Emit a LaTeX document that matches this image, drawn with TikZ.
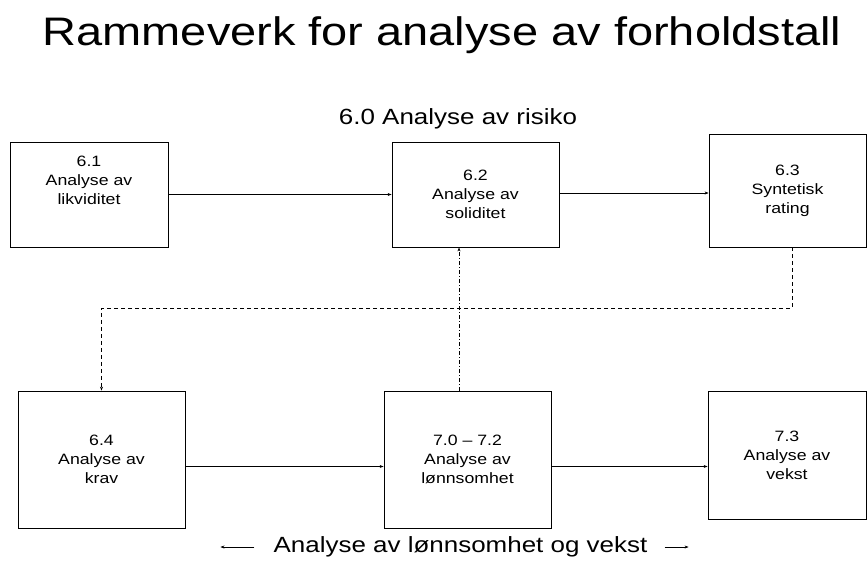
\documentclass[tikz,border=0pt]{standalone}
\usepackage{fontspec}
\setmainfont[FakeStretch=1.18]{Liberation Sans}
\usetikzlibrary{arrows.meta}
\begin{document}
\begin{tikzpicture}[x=1pt,y=-1pt,
  box/.style={draw, line width=0.8pt, inner sep=0pt, align=center,
    font=\fontsize{15}{19}\selectfont},
  boxtext/.style={inner sep=0pt, align=center, font=\fontsize{15}{19}\selectfont},
  conn/.style={line width=0.6pt, -{Stealth[length=4pt,width=3pt]}},
  dashconn/.style={conn, dash pattern=on 4pt off 3pt},
  dotconn/.style={conn, dash pattern=on 4pt off 2pt on 1pt off 2pt},
  lbl/.style={inner sep=0pt, font=\fontsize{22}{26}\selectfont}]
\useasboundingbox (0,0) rectangle (867,566);
% title
\node[inner sep=0pt, anchor=base, font=\fontsize{39.8}{45}\selectfont] (title) at (442,45) {Rammeverk for analyse av forholdstall};
\node[lbl, anchor=base] (sub) at (458,124) {6.0 Analyse av risiko};
% boxes
\node[box, minimum width=158pt, minimum height=105pt] (b61) at (89,194.5) {};
\node[boxtext] (t61) at (89,180.5) {6.1\\Analyse av\\likviditet};
\node[box, minimum width=167pt, minimum height=105pt] (b62) at (475.5,194.5) {6.2\\Analyse av\\soliditet};
\node[box, minimum width=157pt, minimum height=113pt] (b63) at (787.5,190.5) {6.3\\Syntetisk\\rating};
\node[box, minimum width=167pt, minimum height=137pt] (b64) at (101.5,459.5) {6.4\\Analyse av\\krav};
\node[box, minimum width=167pt, minimum height=137pt] (b70) at (467.5,459.5) {7.0 – 7.2\\Analyse av\\lønnsomhet};
\node[box, minimum width=158pt, minimum height=128pt] (b73) at (787,455) {7.3\\Analyse av\\vekst};
% connectors
\draw[conn] (b61.east) -- (b62.west);
\draw[conn] ([yshift=1.5pt]b62.east) -- ([yshift=1.5pt]b62.east -| b63.west);
\draw[conn] ([yshift=-7pt]b64.east) -- ([yshift=-7pt]b64.east -| b70.west);
\draw[conn] ([yshift=-7pt]b70.east) -- ([yshift=-7pt]b70.east -| b73.west);
\draw[dashconn] ([xshift=4.5pt]b63.south) -- ++(0,61) -| (b64.north);
\coordinate (dd) at (459,0);
\draw[dotconn] (b70.north -| dd) -- (b62.south -| dd);
% bottom label
\node[lbl, anchor=base] (bt) at (460.5,552) {Analyse av lønnsomhet og vekst};
\draw[conn] ([xshift=-19pt,yshift=5pt]bt.base west) -- ++(-34,0);
\draw[conn] ([xshift=17pt,yshift=5pt]bt.base east) -- ++(24,0);
\end{tikzpicture}
\end{document}
